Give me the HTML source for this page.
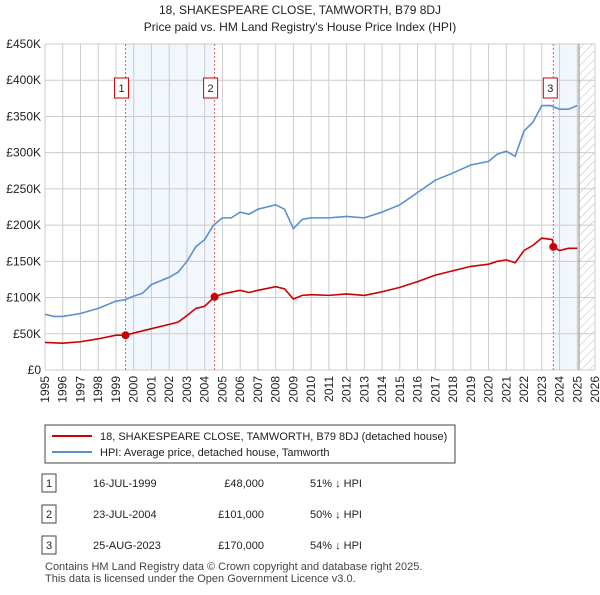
<!DOCTYPE html>
<html><head><meta charset="utf-8"><style>
body{margin:0;background:#fff;font-family:"Liberation Sans",sans-serif;}
svg text{font-family:"Liberation Sans",sans-serif;}
</style></head><body>
<svg id="c" width="600" height="590" xmlns="http://www.w3.org/2000/svg">
<defs><pattern id="hatch" width="6" height="6" patternUnits="userSpaceOnUse" patternTransform="rotate(45)"><line x1="0" y1="0" x2="0" y2="6" stroke="#bbb" stroke-width="1"/></pattern></defs>
<text x="300" y="14" text-anchor="middle" font-size="12" fill="#222">18, SHAKESPEARE CLOSE, TAMWORTH, B79 8DJ</text>
<text x="300" y="31" text-anchor="middle" font-size="12" fill="#222">Price paid vs. HM Land Registry's House Price Index (HPI)</text>
<g id="plot"></g>
<rect x="45" y="425" width="410" height="38" fill="#fff" stroke="#444"/>
<line x1="52" y1="436" x2="92" y2="436" stroke="#cc0000" stroke-width="2"/>
<text x="100" y="440" font-size="11" fill="#222">18, SHAKESPEARE CLOSE, TAMWORTH, B79 8DJ (detached house)</text>
<line x1="52" y1="452" x2="92" y2="452" stroke="#5b8fd0" stroke-width="2"/>
<text x="100" y="456" font-size="11" fill="#222">HPI: Average price, detached house, Tamworth</text>
<g id="table"></g>
<text x="45" y="570" font-size="11" fill="#444">Contains HM Land Registry data © Crown copyright and database right 2025.</text>
<text x="45" y="582" font-size="11" fill="#444">This data is licensed under the Open Government Licence v3.0.</text>
</svg>
<script>
const hpiYears=[1995,1995.5,1996,1997,1998,1999,1999.5,2000,2000.5,2001,2002,2002.5,2003,2003.5,2004,2004.5,2005,2005.5,2006,2006.5,2007,2007.5,2008,2008.5,2009,2009.5,2010,2011,2012,2013,2014,2015,2016,2017,2018,2019,2020,2020.5,2021,2021.5,2022,2022.5,2023,2023.5,2024,2024.5,2025];
const hpiValues=[77,74,74,78,85,95,97,102,106,118,128,135,150,170,180,200,210,210,218,215,222,225,228,222,195,208,210,210,212,210,218,228,245,262,272,283,288,298,302,295,330,342,365,365,360,360,365];
const priceYears=[1995,1996,1997,1998,1999,1999.54,2000,2001,2002,2002.5,2003,2003.5,2004,2004.56,2005,2006,2006.5,2007,2008,2008.5,2009,2009.5,2010,2011,2012,2013,2014,2015,2016,2017,2018,2019,2020,2020.5,2021,2021.5,2022,2022.5,2023,2023.6,2023.65,2024,2024.5,2025];
const priceValues=[38,37,39,43,48,48,51,57,63,66,75,85,88,101,105,110,107,110,115,112,98,103,104,103,105,103,108,114,122,131,137,143,146,150,152,148,165,172,182,180,170,165,168,168];
const saleYears=[1999.54,2004.56,2023.65];
const saleValues=[48,101,170];
const saleLabels=["1","2","3"];
const saleDates=["16-JUL-1999","23-JUL-2004","25-AUG-2023"];
const salePrices=["£48,000","£101,000","£170,000"];
const saleDiffs=["51% ↓ HPI","50% ↓ HPI","54% ↓ HPI"];
const yTicks=[0,50,100,150,200,250,300,350,400,450];
const yTickLabels=["£0","£50K","£100K","£150K","£200K","£250K","£300K","£350K","£400K","£450K"];
const xStart=1995,xEnd=2026;
const NS="http://www.w3.org/2000/svg";
const X0=45,X1=595,Y0=370,Y1=44;
const xs=y=>X0+(y-xStart)/(xEnd-xStart)*(X1-X0);
const ys=v=>Y0-v/450*(Y0-Y1);
const g=document.getElementById('plot');
function mk(tag,attrs,parent){const e=document.createElementNS(NS,tag);for(const k in attrs)e.setAttribute(k,attrs[k]);(parent||g).appendChild(e);return e;}
let e;
e=mk('rect',{x:xs(saleYears[0]),y:Y1,width:xs(saleYears[1])-xs(saleYears[0]),height:Y0-Y1,fill:'#f2f6fd'});


e=mk('rect',{x:xs(saleYears[2]),y:Y1,width:xs(2025.1)-xs(saleYears[2]),height:Y0-Y1,fill:'#f2f6fd'});


e=mk('rect',{x:xs(2025.1),y:Y1,width:X1-xs(2025.1),height:Y0-Y1,fill:'url(#hatch)'});


yTicks.forEach((t,i)=>{
 e=mk('line',{x1:X0,x2:X1,y1:ys(t),y2:ys(t),stroke:'#cccccc'});
 
 
 e=mk('text',{x:X0-4,y:ys(t)+4,'text-anchor':'end','font-size':12,fill:'#222'});
 e.textContent=yTickLabels[i];
 
 
});
for(let yr=xStart;yr<=xEnd;yr++){
 e=mk('line',{x1:xs(yr),x2:xs(yr),y1:Y1,y2:Y0,stroke:'#cccccc'});
 
 
 e=mk('text',{x:0,y:0,'text-anchor':'end','font-size':12,fill:'#222',transform:`translate(${xs(yr)+4},${Y0+6}) rotate(-90)`});
 e.textContent=yr;
 
 
}
e=mk('line',{x1:xs(2025.1),x2:xs(2025.1),y1:Y1,y2:Y0,stroke:'#888'});


saleYears.forEach((s,i)=>{
 e=mk('line',{x1:xs(s),x2:xs(s),y1:Y1,y2:Y0,stroke:'#e06060','stroke-dasharray':'2,2'});
 
 
});
e=mk('polyline',{points:hpiYears.map((y,i)=>xs(y)+','+ys(hpiValues[i])).join(' '),fill:'none',stroke:'#5b8fd0','stroke-width':1.6});


e=mk('polyline',{points:priceYears.map((y,i)=>xs(y)+','+ys(priceValues[i])).join(' '),fill:'none',stroke:'#cc0000','stroke-width':1.6});


saleYears.forEach((s,i)=>{
 e=mk('circle',{cx:xs(s),cy:ys(saleValues[i]),r:4,fill:'#cc0000'});
 
 
 const bx=xs(s)-7-(i==2?3:4);
 e=mk('rect',{x:bx,y:78,width:14,height:20,fill:'#fff',stroke:'#cc0000'});
 
 
 e=mk('text',{x:bx+7,y:92,'text-anchor':'middle','font-size':11,fill:'#222'});
 e.textContent=saleLabels[i];
 
 
});
const tg=document.getElementById('table');
saleLabels.forEach((l,i)=>{
 const cy=483+i*31;
 e=mk('rect',{x:42,y:cy-9,width:14,height:18,fill:'#fff',stroke:'#444'},tg);
 
 
 e=mk('text',{x:49,y:cy+4,'text-anchor':'middle','font-size':11,fill:'#222'},tg);
 e.textContent=l;
 
 
 e=mk('text',{x:93,y:cy+4,'font-size':11,fill:'#222'},tg);
 e.textContent=saleDates[i];
 
 
 e=mk('text',{x:264,y:cy+4,'text-anchor':'end','font-size':11,fill:'#222'},tg);
 e.textContent=salePrices[i];
 
 
 e=mk('text',{x:310,y:cy+4,'font-size':11,fill:'#222'},tg);
 e.textContent=saleDiffs[i];
 
 
});
</script>
</body></html>
